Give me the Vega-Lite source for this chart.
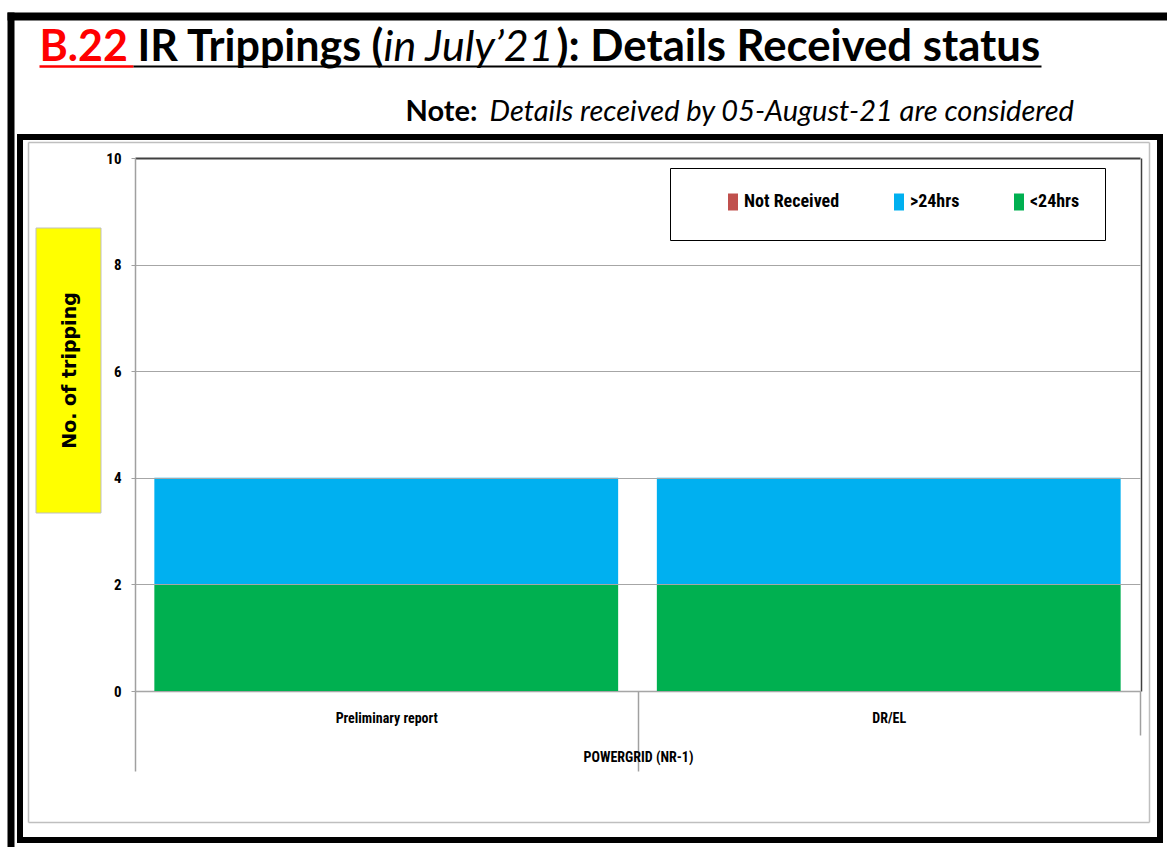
{
  "$schema": "https://vega.github.io/schema/vega-lite/v6.json",
  "width": 1140,
  "height": 703,
  "autosize": {"type": "none"},
  "padding": {"left": 20, "top": 137, "right": 7, "bottom": 7},
  "background": "#ffffff",
  "config": {
    "view": {"stroke": "#000000", "strokeWidth": 6},
    "axis": {"titleColor": "#000000", "labelColor": "#000000"}
  },
  "resolve": {"scale": {"x": "independent", "y": "independent"}},
  "layer": [
    {
      "data": {"values": [
        {"category": "Preliminary report", "status": "<24hrs", "count": 2},
        {"category": "Preliminary report", "status": ">24hrs", "count": 2},
        {"category": "Preliminary report", "status": "Not Received", "count": 0},
        {"category": "DR/EL", "status": "<24hrs", "count": 2},
        {"category": "DR/EL", "status": ">24hrs", "count": 2},
        {"category": "DR/EL", "status": "Not Received", "count": 0}
      ]},
      "mark": {"type": "bar", "width": {"band": 0.923}},
      "encoding": {
        "x": {
          "field": "category", "type": "nominal", "sort": null,
          "scale": {"type": "band", "range": [115, 1120], "paddingInner": 0, "paddingOuter": 0},
          "axis": {
            "orient": "bottom", "offset": -149, "grid": false,
            "domainColor": "#a0a0a0", "domainWidth": 1.5,
            "tickBand": "extent", "tickColor": "#a0a0a0", "tickWidth": 1.5,
            "tickSize": {"condition": {"test": "datum.value == 'DR/EL'", "value": 44}, "value": 80},
            "labelPadding": {"condition": {"test": "datum.value == 'DR/EL'", "value": -24}, "value": -60},
            "labelAngle": 0,
            "labelFont": "Roboto Condensed, DejaVu Sans Condensed, Roboto", "labelFontSize": 14, "labelFontWeight": "bold",
            "title": "POWERGRID (NR-1)", "titleX": 618, "titleY": 66,
            "titleAlign": "center", "titleBaseline": "middle",
            "titleFont": "Roboto Condensed, DejaVu Sans Condensed, Roboto", "titleFontSize": 14, "titleFontWeight": "bold"
          }
        },
        "y": {
          "field": "count", "type": "quantitative", "stack": "zero",
          "scale": {"domain": [0, 10], "range": [554, 21], "nice": false},
          "axis": {
            "orient": "left", "offset": -115, "values": [0, 2, 4, 6, 8, 10], "zindex": 1,
            "domainColor": "#a0a0a0", "domainWidth": 1.5,
            "tickColor": "#a0a0a0", "tickSize": 4, "labelPadding": 10,
            "labelFont": "Roboto Condensed, DejaVu Sans Condensed, Roboto", "labelFontSize": 15, "labelFontWeight": "bold",
            "grid": true,
            "gridColor": {"condition": {"test": "datum.value == 10", "value": "#404040"}, "value": "#a6a6a6"},
            "gridWidth": {"condition": {"test": "datum.value == 10", "value": 2}, "value": 1},
            "title": "No. of tripping", "titleX": -66, "titleY": 233, "titleAngle": 270,
            "titleAlign": "center", "titleBaseline": "middle",
            "titleFont": "DejaVu Sans", "titleFontSize": 19, "titleFontWeight": "bold"
          }
        },
        "color": {
          "field": "status", "type": "nominal",
          "scale": {"domain": ["Not Received", ">24hrs", "<24hrs"], "range": ["#c0504d", "#00b0f0", "#00b050"]},
          "legend": {
            "orient": "none", "legendX": 650, "legendY": 31, "direction": "horizontal",
            "title": "\u2003", "titleOrient": "left", "titleFontSize": 25, "titlePadding": 29,
            "fillColor": "#ffffff", "strokeColor": "#000000", "padding": 25,
            "symbolType": "M-0.59,-1H0.59V1H-0.59Z", "symbolSize": 289, "symbolStrokeWidth": 0, "symbolOpacity": 1,
            "labelFont": "Roboto Condensed, DejaVu Sans Condensed, Roboto", "labelFontSize": 18, "labelFontWeight": "bold", "labelColor": "#000000",
            "labelOffset": 2, "columnPadding": 50
          }
        },
        "order": {"field": "status", "type": "ordinal", "sort": "ascending"}
      }
    },
    {
      "data": {"values": [{}]},
      "mark": {"type": "rect", "fill": "#ffff00", "stroke": "#bfbfbf", "strokeWidth": 1},
      "encoding": {
        "x": {"datum": 0, "type": "quantitative", "scale": {"domain": [0, 1], "range": [16, 81], "nice": false, "zero": false}, "axis": null},
        "x2": {"datum": 1},
        "y": {"datum": 0, "type": "quantitative", "scale": {"domain": [0, 1], "range": [376, 91], "nice": false, "zero": false}, "axis": null},
        "y2": {"datum": 1}
      }
    },
    {
      "data": {"values": [{}]},
      "mark": {"type": "point", "opacity": 0},
      "encoding": {
        "x": {"datum": 0, "type": "quantitative", "scale": {"domain": [0, 1], "range": [19, 113], "nice": false, "zero": false},
          "axis": {"orient": "top", "offset": 71, "labels": false, "ticks": false, "grid": false,
            "domain": true, "domainColor": "#ff0000", "domainWidth": 2.5,
            "title": "B.22", "titleX": 19, "titleY": -6, "titleAlign": "left", "titleBaseline": "alphabetic", "titleAngle": 0,
            "titleColor": "#ff0000", "titleFont": "Lato", "titleFontSize": 43, "titleFontWeight": "bold"}}
      }
    },
    {
      "data": {"values": [{}]},
      "mark": {"type": "point", "opacity": 0},
      "encoding": {
        "x": {"datum": 0, "type": "quantitative", "scale": {"domain": [0, 1], "range": [113, 1021], "nice": false, "zero": false},
          "axis": {"orient": "top", "offset": 71, "labels": false, "ticks": false, "grid": false,
            "domain": true, "domainColor": "#000000", "domainWidth": 2,
            "title": "IR Trippings (", "titleX": 117, "titleY": -6, "titleAlign": "left", "titleBaseline": "alphabetic", "titleAngle": 0,
            "titleFont": "Lato", "titleFontSize": 43, "titleFontWeight": "bold"}}
      }
    },
    {
      "data": {"values": [{}]},
      "mark": {"type": "point", "opacity": 0},
      "encoding": {
        "x": {"datum": 0, "type": "quantitative", "scale": {"domain": [0, 1], "range": [0, 1], "nice": false, "zero": false},
          "axis": {"orient": "top", "offset": 0, "labels": false, "ticks": false, "grid": false, "domain": false,
            "title": "in July\u201921", "titleX": 363, "titleY": -77, "titleAlign": "left", "titleBaseline": "alphabetic", "titleAngle": 0,
            "titleFont": "Lato", "titleFontSize": 43, "titleFontWeight": "normal", "titleFontStyle": "italic"}}
      }
    },
    {
      "data": {"values": [{}]},
      "mark": {"type": "point", "opacity": 0},
      "encoding": {
        "x": {"datum": 0, "type": "quantitative", "scale": {"domain": [0, 1], "range": [0, 1], "nice": false, "zero": false},
          "axis": {"orient": "top", "offset": 0, "labels": false, "ticks": false, "grid": false, "domain": false,
            "title": "): Details Received status", "titleX": 536, "titleY": -77, "titleAlign": "left", "titleBaseline": "alphabetic", "titleAngle": 0,
            "titleFont": "Lato", "titleFontSize": 43.7, "titleFontWeight": "bold"}}
      }
    },
    {
      "data": {"values": [{}]},
      "mark": {"type": "point", "opacity": 0},
      "encoding": {
        "x": {"datum": 0, "type": "quantitative", "scale": {"domain": [0, 1], "range": [0, 1], "nice": false, "zero": false},
          "axis": {"orient": "top", "offset": 0, "labels": false, "ticks": false, "grid": false, "domain": false,
            "title": "Note:", "titleX": 385, "titleY": -17, "titleAlign": "left", "titleBaseline": "alphabetic", "titleAngle": 0,
            "titleFont": "Lato", "titleFontSize": 29, "titleFontWeight": "bold"}}
      }
    },
    {
      "data": {"values": [{}]},
      "mark": {"type": "point", "opacity": 0},
      "encoding": {
        "x": {"datum": 0, "type": "quantitative", "scale": {"domain": [0, 1], "range": [0, 1], "nice": false, "zero": false},
          "axis": {"orient": "top", "offset": 0, "labels": false, "ticks": false, "grid": false, "domain": false,
            "title": "Details received by 05-August-21 are considered", "titleX": 469, "titleY": -17, "titleAlign": "left", "titleBaseline": "alphabetic", "titleAngle": 0,
            "titleFont": "Lato", "titleFontSize": 29, "titleFontWeight": "normal", "titleFontStyle": "italic"}}
      }
    },
    {
      "data": {"values": [{}]},
      "mark": {"type": "point", "opacity": 0},
      "encoding": {
        "x": {"datum": 0, "type": "quantitative", "scale": {"domain": [0, 1], "range": [-13, 1147], "nice": false, "zero": false},
          "axis": {"orient": "top", "offset": 121, "labels": false, "ticks": false, "grid": false,
            "domain": true, "domainColor": "#000000", "domainWidth": 8, "title": null}},
        "y": {"datum": 0, "type": "quantitative", "scale": {"domain": [0, 1], "range": [-125, 710], "nice": false, "zero": false},
          "axis": {"orient": "left", "offset": 9.5, "labels": false, "ticks": false, "grid": false,
            "domain": true, "domainColor": "#000000", "domainWidth": 7, "title": null}}
      }
    },
    {
      "data": {"values": [{}]},
      "mark": {"type": "point", "opacity": 0},
      "encoding": {
        "y": {"datum": 0, "type": "quantitative", "scale": {"domain": [0, 1], "range": [21, 554], "nice": false, "zero": false},
          "axis": {"orient": "right", "offset": -19, "labels": false, "ticks": false, "grid": false,
            "domain": true, "domainColor": "#404040", "domainWidth": 1.5, "title": null}}
      }
    },
    {
      "data": {"values": [{}]},
      "mark": {"type": "point", "opacity": 0},
      "encoding": {
        "x": {"datum": 0, "type": "quantitative", "scale": {"domain": [0, 1], "range": [8, 1129], "nice": false, "zero": false},
          "axis": {"orient": "bottom", "offset": -18, "labels": false, "ticks": false, "grid": false,
            "domain": true, "domainColor": "#bfbfbf", "domainWidth": 1.5, "title": null}},
        "y": {"datum": 0, "type": "quantitative", "scale": {"domain": [0, 1], "range": [5, 685], "nice": false, "zero": false},
          "axis": {"orient": "left", "offset": -8, "labels": false, "ticks": false, "grid": false,
            "domain": true, "domainColor": "#bfbfbf", "domainWidth": 1.5, "title": null}}
      }
    },
    {
      "data": {"values": [{}]},
      "mark": {"type": "point", "opacity": 0},
      "encoding": {
        "x": {"datum": 0, "type": "quantitative", "scale": {"domain": [0, 1], "range": [8, 1129], "nice": false, "zero": false},
          "axis": {"orient": "top", "offset": -5, "labels": false, "ticks": false, "grid": false,
            "domain": true, "domainColor": "#bfbfbf", "domainWidth": 1.5, "title": null}},
        "y": {"datum": 0, "type": "quantitative", "scale": {"domain": [0, 1], "range": [5, 685], "nice": false, "zero": false},
          "axis": {"orient": "right", "offset": -11, "labels": false, "ticks": false, "grid": false,
            "domain": true, "domainColor": "#bfbfbf", "domainWidth": 1.5, "title": null}}
      }
    }
  ]
}
